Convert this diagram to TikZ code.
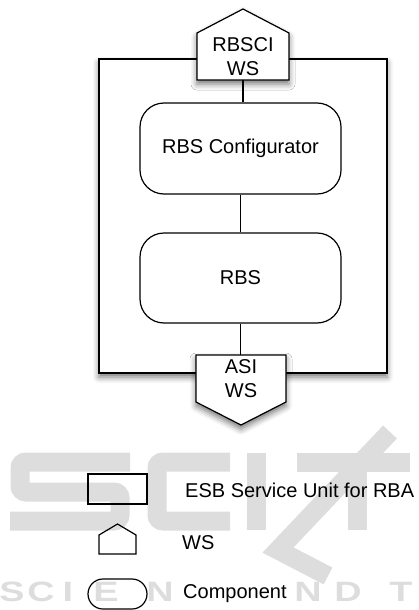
\documentclass[tikz,border=0pt]{standalone}
\usepackage{fontspec}
\setmainfont{Liberation Sans}
\usetikzlibrary{shadows.blur}

\definecolor{wmgray}{RGB}{221,221,221}

\tikzset{
    bigfont/.style={font=\fontsize{20}{23.5}\selectfont},
    softshadow/.style={blur shadow={shadow xshift=0pt,shadow yshift=-4pt,
        shadow blur radius=6pt,shadow opacity=55}},
    unitbox/.style={draw,line width=1.2pt,fill=white,softshadow},
    comp/.style={draw,line width=1.2pt,fill=white,rounded corners=24pt,
        minimum width=201pt,bigfont},
    wstext/.style={inner sep=0pt,minimum width=92pt,minimum height=47pt,
        align=center,bigfont},
    wsshape/.style={draw,line width=1.2pt,fill=white,line join=miter},
    keyshape/.style={draw,line width=1.2pt,line join=miter},
    link/.style={line width=1.2pt},
    keytext/.style={anchor=west,inner sep=0pt,bigfont},
    wmstroke/.style={draw=wmgray,line width=19pt},
    wmtext/.style={text=wmgray,xscale=1.35,font=\fontsize{28}{28}\selectfont\bfseries}
}

\begin{document}
\begin{tikzpicture}[x=1pt,y=-1pt]
    \useasboundingbox (0,0) rectangle (418,610);

    % watermark behind the key
    \draw[wmstroke,rounded corners=6pt] (130,462) -- (20,462) -- (20,492)
        -- (120,492) -- (120,521) -- (10,521);
    \draw[wmstroke,rounded corners=6pt] (230,462) -- (157,462) -- (157,521) -- (230,521);
    \draw[wmstroke] (256,453) -- (256,530);
    \draw[wmstroke] (390,432) -- (278,550) -- (328,576);
    \draw[wmstroke] (297,462) -- (410,462);
    \draw[wmstroke] (357,462) -- (357,530);
    \foreach \ch/\cx [count=\n] in {S/12,C/41,I/68,E/106,N/160,N/308,D/348,T/401}
        \node[wmtext] (wm\n) at (\cx,592) {\ch};

    \node[unitbox,minimum width=288pt,minimum height=314pt] (unit) at (243,216) {};

    % web services
    \coordinate (rbscic) at (243,56.5);
    \coordinate (asic) at (241,378.5);
    \draw[wsshape,softshadow] ([shift={(-46,23.5)}]rbscic) -- ([shift={(-46,-23.5)}]rbscic)
        -- ([shift={(0,-47.5)}]rbscic) -- ([shift={(46,-23.5)}]rbscic)
        -- ([shift={(46,23.5)}]rbscic) -- cycle;
    \draw[wsshape,softshadow] ([shift={(-45,-23.5)}]asic) -- ([shift={(-45,23.5)}]asic)
        -- ([shift={(0,46.5)}]asic) -- ([shift={(45,23.5)}]asic)
        -- ([shift={(45,-23.5)}]asic) -- cycle;
    \node[wstext] (rbsci) at (rbscic) {RBSCI\\WS};
    \node[wstext,minimum width=90pt] (asi) at (asic) {ASI\\WS};

    % components
    \node[comp,minimum height=91pt] (conf) at (240.5,148.5) {RBS Configurator};
    \node[comp,minimum height=90pt] (rbs) at (240.5,278) {RBS};

    \draw[link] (rbsci.south) -- (rbsci.south |- conf.north);
    \draw[link] (conf.south) -- (rbs.north);
    \draw[link] (rbs.south) -- (rbs.south |- asi.north);

    % key
    \node[keyshape,minimum width=59pt,minimum height=30pt] (keyunit) at (117.5,489) {};
    \node[keytext] (keyunittext) at (185,490) {ESB Service Unit for RBA};

    \coordinate (keywsc) at (117.5,544.5);
    \draw[keyshape] ([shift={(-18.5,9.5)}]keywsc) -- ([shift={(-18.5,-9.5)}]keywsc)
        -- ([shift={(0,-20.5)}]keywsc) -- ([shift={(18.5,-9.5)}]keywsc)
        -- ([shift={(18.5,9.5)}]keywsc) -- cycle;
    \node[keytext] (keywstext) at (182,543) {WS};

    \node[keyshape,rounded corners=15pt,minimum width=59pt,
        minimum height=30pt] (keycomp) at (117.5,594) {};
    \node[keytext] (keycomptext) at (183,594) {Component};
\end{tikzpicture}
\end{document}
